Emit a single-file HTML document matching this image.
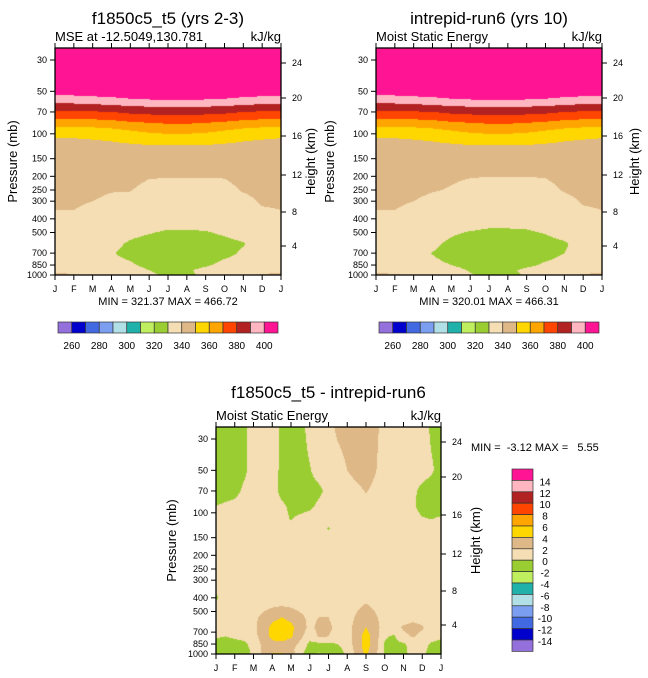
<!DOCTYPE html>
<html><head><meta charset="utf-8"><style>
html,body{margin:0;padding:0;background:#fff;width:648px;height:678px;overflow:hidden}
#root{position:relative;width:648px;height:678px;font-family:"Liberation Sans",sans-serif}
canvas{position:absolute}
svg{position:absolute;left:0;top:0}
svg text{white-space:pre}
</style></head><body><div id="root">
<canvas id="c1" width="226" height="227" style="left:55px;top:48px"></canvas>
<canvas id="c2" width="226" height="227" style="left:376px;top:48px"></canvas>
<canvas id="c3" width="225" height="227" style="left:216px;top:427px"></canvas>
<svg id="svg" width="648" height="678"></svg>
</div>
<script>
const months = ["J","F","M","A","M","J","J","A","S","O","N","D","J"];
const presTicks = [30,50,70,100,150,200,250,300,400,500,700,850,1000];
const heightTicks = [24,20,16,12,8,4];
const heightOffsets = [15,50,88,127,164,198];
const absLevels = [260,270,280,290,300,310,320,330,340,350,360,370,380,390,400];
const absLabels = [260,280,300,320,340,360,380,400];
const diffLevels = [-14,-12,-10,-8,-6,-4,-2,0,2,4,6,8,10,12,14];
const colors = ["#9370DB","#0000CD","#4169E1","#7B9EF0","#B0E0E6","#20B2AA","#BFEF5F","#9ACD32","#F5DEB3","#DEB887","#FFD700","#FFA500","#FF4500","#B22222","#FFB6C1","#FF1493"];

const mseP = [25,40,50,55,60,65,70,80,90,100,110,120,150,200,250,300,400,500,600,700,850,925,1000];
const mse1 = [
[440,440,440,440,440,440,440,440,440,440,440,440,440],
[420,420,420,420,420,420,420,420,420,420,420,420,420],
[405,405,406,407,408,409,410,410,409,408,407,405,405],
[398,398,399,400,402,403,404,404,403,402,400,399,398],
[391,391,392,393,395,396,397,397,396,395,393,392,391],
[386,386,386,387,388,389,389,389,389,388,387,386,386],
[378,378,379,380,382,383,384,384,383,382,380,379,378],
[368,368,369,370,372,373,374,374,373,372,370,369,368],
[359,359,360,361,363,365,366,366,365,363,361,360,359],
[353,353,354,355,357,359,360,360,359,357,355,354,353],
[349,349,350,351,353,354,355,355,354,353,351,350,349],
[347,347,347,348,349,350,350,350,350,349,348,347,347],
[346,346,346,346,346,346,346,346,346,346,346,346,346],
[344,344,343,342,342,340.5,340.2,340.2,340.2,340.4,342,343,344],
[343,343,342,340.6,340.3,338,338,338,338,338,340.6,342,343],
[341,341,340,338,338,337,336,336,336,337,338,340.8,341],
[339,339,337,336,336,335,334,334,334,335,336,338,339],
[336,336,335,334,332,330.5,329,329,329.5,331,333,335,336],
[335,335,334,332,329,327,326,326,327,328,329.5,334,335],
[334,334,333,330.5,328,326,325,325,326,328,331,333,334],
[334,334,333,332,331,328,326,327,329,332,333,334,334],
[337,336,335,334,333,330,328,329,332,334,335,336,337],
[343,341,339,336,334,331,329,329,331,335,338,341,343]];
const mse2 = [
[440,440,440,440,440,440,440,440,440,440,440,440,440],
[420,420,420,420,420,420,420,420,420,420,420,420,420],
[405,405,406,407,408,409,410,410,409,408,407,405,405],
[398,398,399,400,402,403,404,404,403,402,400,399,398],
[391,391,392,393,395,396,397,397,396,395,393,392,391],
[386,386,386,387,388,389,389,389,389,388,387,386,386],
[378,378,379,380,382,383,384,384,383,382,380,379,378],
[368,368,369,370,372,373,374,374,373,372,370,369,368],
[359,359,360,361,363,365,366,366,365,363,361,360,359],
[353,353,354,355,357,359,360,360,359,357,355,354,353],
[349,349,350,351,353,354,355,355,354,353,351,350,349],
[347,347,347,348,349,350,350,350,350,349,348,347,347],
[346,346,346,346,346,346,346,346,346,346,346,346,346],
[344,344,343,342,341,340.3,340.1,340.1,340.1,340.3,342,343,344],
[343,343,342,340.5,339.5,338,337.5,337.5,337.5,338,340.5,342,343],
[341,341,340,338,337.5,336.5,335.5,335.5,335.5,336.5,338,340.6,341],
[339,339,337,335.5,335.5,334.5,333.5,333.5,333.5,334.5,336,338,339],
[336,336,335,333.5,331,329.5,328.5,328.5,329,330.5,333,335,336],
[335,335,334,331.5,328.5,326.5,325.5,325.5,326.5,327.5,329,333.5,335],
[334,334,332.5,329.8,327.5,325.5,324.5,324.5,325.5,327.5,330,333,334],
[334,334,333,331.5,330,327.5,325.5,326.5,328.5,331,332.5,334,334],
[337,336,335,333.5,332.5,329.5,327.5,328.5,331.5,333.5,335,336,337],
[343,341,339,336,333.5,330.5,328.5,328.5,330.5,334.5,338,341,343]];

const diffP = [25,50,70,90,110,130,150,300,400,470,550,650,750,850,925,1000];
const diffVals = [
[-.8,-.8,-.8,-.3,.6,1,1,-.4,-.8,-.5,.5,1,1.5,2.3,2.6,2.8,3,2.4,1.3,1,1,1,.8,-.3,-.8],
[-.8,-.8,-.8,-.3,.6,1,.8,-.4,-.8,-.6,-.1,.6,1,1.4,2,2.5,2.8,2.1,1.2,1,1,.8,.6,.2,-.6],
[-.8,-.8,-.5,.3,.8,1,.6,-.4,-.8,-.7,-.5,-.3,.4,1,1.3,1.6,2.1,1.6,1.2,1,.8,.3,-.4,-.7,-.8],
[0,.3,.5,.8,1,1,.8,.3,-.3,-.5,-.3,.3,.8,1,1.2,1.3,1.4,1.3,1,1,.8,.2,-.5,-.7,-.8],
[.5,.6,.8,1,1,1,.8,.5,-.1,.3,.6,.8,1,1,1,1,1,1,1,1,.8,.5,.1,-.05,.2],
[.8,.8,.9,1,1,1,1,1,.5,1,1,1,-.2,1,1,1,1,1,1,1,1,1,.8,.6,.5],
[1,1,1,1,1,1,1,1,1,1,1,1,1,1,1,1,1,1,1,1,1,1,1,1,1],
[1,1,1,1,1,1,1,1,1,1,1,1,1,1,1,1,1,1,1,1,1,1,1,1,1],
[-.3,.8,1,1,1,1,1,1,1,1,1,1,1,1,1,1,1.5,1,1,1,1,1,1,1,1],
[1,1,1,1,1,1.5,2,2.2,2,1.5,1,1,1,1,1,1.7,2.4,1.7,1,1,1,1,1,1,1],
[1,1,1,1,1.5,2.5,3.5,4,3.5,2.5,1.5,2,2,1,1,2.3,3,2.3,1,1,1,1.5,1.2,1,1],
[.8,.7,.8,1,1.5,3,4.5,5,4.5,3,1.5,2.5,2.5,1.3,1.2,2.8,4,2.8,1,1,2.3,2.6,2.2,1,.8],
[.2,0,.3,.5,1.2,3,4.5,5,4.3,2.5,.8,2.3,2,1,1,3,4.8,3,.2,-.2,1.5,2.2,1.5,.6,.3],
[-.5,-.8,-.6,-.3,.5,2.5,3.5,3.5,3,1.5,-.5,-.5,-.3,0,.8,3,4.8,2.8,-.2,-.6,-.2,.5,.5,-.2,-.5],
[-.6,-.8,-.7,-.4,.3,2.5,3.3,3,2.5,1,-.8,-1,-.8,-.5,.6,2.8,4.7,2.7,-.3,-.7,-.3,.5,.4,-.4,-.6],
[-.6,-.8,-1,-.5,.3,2.5,4.2,4.3,3,.5,-1.5,-2.5,-2.2,-1,.4,2.5,4.3,2.4,-.3,-.8,-.4,.5,.3,-.5,-.6]];

const K = 215/Math.log(1000/30);
function hex(c){return [parseInt(c.substr(1,2),16),parseInt(c.substr(3,2),16),parseInt(c.substr(5,2),16)];}
const rgb = colors.map(hex);
function colorIdx(v,lv){let i=0;while(i<lv.length&&v>=lv[i])i++;return i;}
function sample(P,V,t,p){
  const lp=Math.log(p);let r=0,f;
  if(p<=P[0]){r=0;f=0;}
  else if(p>=P[P.length-1]){r=P.length-2;f=1;}
  else{while(P[r+1]<p)r++;f=(lp-Math.log(P[r]))/(Math.log(P[r+1])-Math.log(P[r]));}
  const nc=V[0].length;let c=Math.floor(t);if(c>=nc-1)c=nc-2;if(c<0)c=0;const g=t-c;
  const a=V[r][c]*(1-g)+V[r][c+1]*g, b=V[r+1][c]*(1-g)+V[r+1][c+1]*g;
  return a*(1-f)+b*f;
}
function fill(id,P,V,lv){
  const cv=document.getElementById(id),ctx=cv.getContext('2d');
  const W=cv.width,H=cv.height,img=ctx.createImageData(W,H),nc=V[0].length;
  for(let y=0;y<H;y++){const p=1000*Math.exp(-(H-0.5-y)/K);
    for(let x=0;x<W;x++){const t=(x+0.5)/W*(nc-1);const v=sample(P,V,t,p);
      const c=rgb[colorIdx(v,lv)];const o=(y*W+x)*4;img.data[o]=c[0];img.data[o+1]=c[1];img.data[o+2]=c[2];img.data[o+3]=255;}}
  ctx.putImageData(img,0,0);
}
fill('c1',mseP,mse1,absLevels);
fill('c2',mseP,mse2,absLevels);
fill('c3',diffP,diffVals,diffLevels);

const svg=document.getElementById('svg');const NS="http://www.w3.org/2000/svg";
function el(tag,attrs,text){const e=document.createElementNS(NS,tag);for(const k in attrs)e.setAttribute(k,attrs[k]);if(text!==undefined)e.textContent=text;svg.appendChild(e);return e;}
function txt(x,y,s,size,anchor,name,rot){const a={x:x,y:y,'font-size':size,'text-anchor':anchor||'start',fill:'#000'};if(rot)a.transform='rotate(-90 '+x+' '+y+')';const e=el('text',a,s);

return e;}
function panel(x0,y0,w,h,title,titleY,sub,pfx,pTitleX,hTitleX){
  const yb=y0+h;
  if(title){txt(x0+w/2,titleY,title,17,'middle',pfx+'-title');}
  txt(x0,y0-7,sub,13,'start',pfx+'-subtitle');
  txt(x0+w,y0-7,'kJ/kg',13,'end',pfx+'-units');
  const fr=el('rect',{x:x0,y:y0,width:w,height:h,fill:'none',stroke:'#000','stroke-width':1.3});
  
  
  months.forEach((m,i)=>{const x=x0+i*w/12;
    el('line',{x1:x,x2:x,y1:yb,y2:yb+5,stroke:'#000'});
    el('line',{x1:x,x2:x,y1:y0,y2:y0-5,stroke:'#000'});
    txt(x,yb+17,m,9,'middle',pfx+'-month-label');});
  presTicks.forEach(p=>{const y=yb-K*Math.log(1000/p);
    el('line',{x1:x0,x2:x0-5,y1:y,y2:y,stroke:'#000'});
    txt(x0-8,y+3,String(p),9,'end',pfx+'-pressure-tick');});
  heightTicks.forEach((hh,i)=>{const y=y0+heightOffsets[i];
    el('line',{x1:x0+w,x2:x0+w+5,y1:y,y2:y,stroke:'#000'});
    txt(x0+w+11,y+3,String(hh),9,'start',pfx+'-height-tick');});
  txt(pTitleX,y0+h/2,'Pressure (mb)',13,'middle',pfx+'-y-axis-title',true);
  txt(hTitleX,y0+h/2,'Height (km)',13,'middle',pfx+'-right-axis-title',true);
}
panel(55,48,226,227,'f1850c5_t5 (yrs 2-3)',24,'MSE at -12.5049,130.781','run1',17,315);
panel(376,48,226,227,'intrepid-run6 (yrs 10)',24,'Moist Static Energy','run2',334,639);
panel(216,427,225,227,'f1850c5_t5 - intrepid-run6',398,'Moist Static Energy','diff',176,480);
txt(168,305,'MIN = 321.37 MAX = 466.72',11,'middle','run1-min-max');
txt(489,305,'MIN = 320.01 MAX = 466.31',11,'middle','run2-min-max');
txt(471,451,'MIN =  -3.12 MAX =   5.55',11,'start','diff-min-max');

function hbar(x0,pfx){const bw=13.75;
  colors.forEach((c,i)=>{const r=el('rect',{x:x0+i*bw,y:322,width:bw,height:11,fill:c,stroke:'#333','stroke-width':0.7});
  
  });
  absLabels.forEach((v,i)=>{txt(x0+bw*(1+2*i),349,String(v),10,'middle',pfx+'-colorbar-label');});
}
hbar(58,'run1');hbar(379,'run2');
const bh=11.4;
colors.slice().reverse().forEach((c,i)=>{const r=el('rect',{x:512,y:469+i*bh,width:21,height:bh,fill:c,stroke:'#333','stroke-width':0.7});

});
diffLevels.slice().reverse().forEach((v,i)=>{txt(545,469+(i+1)*bh+5,String(v),10,'middle','diff-colorbar-label');});
</script></body></html>
